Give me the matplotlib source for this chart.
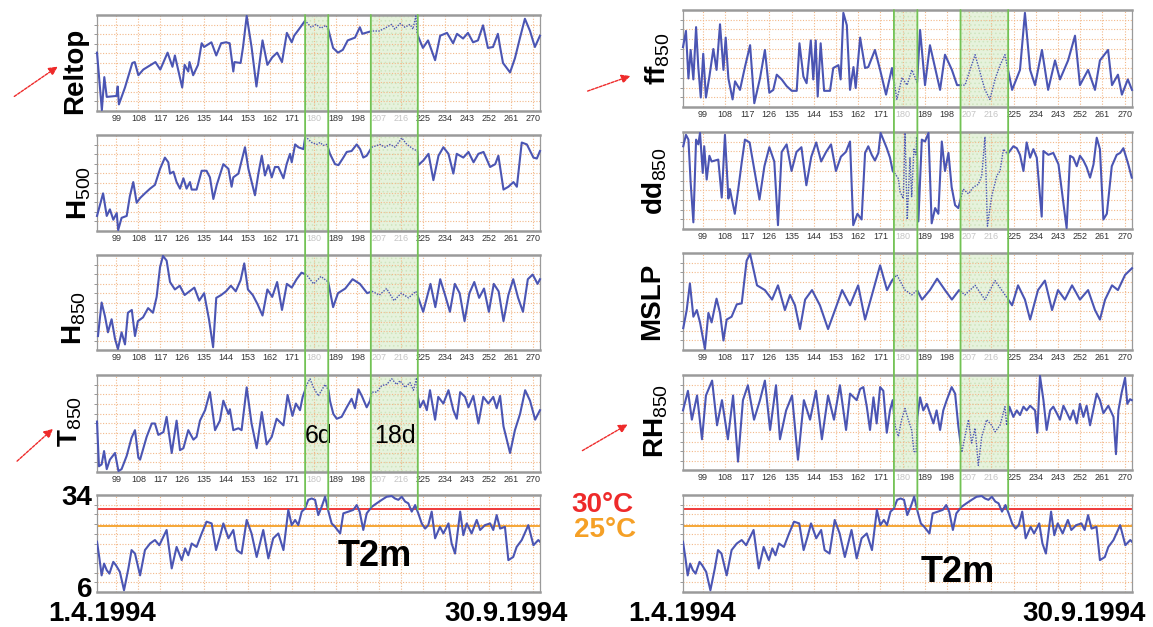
import numpy as np
import matplotlib
matplotlib.use("Agg")
import matplotlib.pyplot as plt
from matplotlib.patches import Rectangle, ConnectionPatch, FancyArrowPatch
from matplotlib.transforms import blended_transform_factory

plt.rcParams['font.family'] = ['Liberation Sans', 'DejaVu Sans']
plt.rcParams['mathtext.fontset'] = 'custom'
plt.rcParams['mathtext.rm'] = 'Liberation Sans'
plt.rcParams['mathtext.bf'] = 'Liberation Sans:bold'
plt.rcParams['mathtext.it'] = 'Liberation Sans:italic'
plt.rcParams['hatch.linewidth'] = 0.6

# ---- data (day of year, value in % of panel range; T2m in degC) ----
spans = [(176.5, 186.0), (203.5, 222.8)]   # hot periods, 6d and 18d
span_labels = ['6d', '18d']
tick_days = list(range(99, 271, 9))
t2m_lim = (6, 34)
thresholds = [30, 25]

reltop_day = [91, 93, 94, 95, 99, 99.5, 100, 102.5, 105.5, 106.5, 108, 110, 115, 117, 120, 122, 123, 126, 127, 128.5,
              129, 130.5, 132.5, 134, 135, 138, 140, 142, 144, 145.5, 147, 147.5, 150, 151, 152.5, 154.5, 156.5, 159,
              161, 163, 165, 167, 169, 171, 172, 174, 176.5, 179, 181, 183, 185, 186, 188, 190, 192, 194, 197, 199,
              200, 204, 207, 210, 212, 213.4, 215.5, 217.5, 219.6, 220.8, 222, 222.5, 224.9, 227, 229.9, 232, 234.8,
              237.3, 238.9, 241.4, 243.4, 245.5, 247.5, 249.6, 251.6, 253.7, 255.7, 256.6, 257.8, 260.7, 262.7, 264.8,
              266.8, 268.9, 270.9, 273]
reltop_val = [61, 0, 35, 14, 15, 25, 6, 24, 50, 51, 37, 43, 51, 43, 61, 46, 58, 24, 48, 41,
              51, 37, 48, 71, 67, 72, 58, 71, 72, 71, 41, 51, 50, 67, 100, 67, 25, 74,
              48, 56, 61, 51, 82, 72, 79, 86, 95, 88, 91, 87, 90, 86, 66, 61, 64, 74, 77, 88,
              81, 84, 84, 88, 91, 86, 92, 88, 91, 86, 100, 81, 66, 74, 53, 79, 82,
              71, 81, 76, 82, 72, 74, 90, 66, 67, 81, 67, 50, 40, 55, 77,
              97, 84, 67, 79]

h500_day = [91, 93.5, 95, 96.3, 97.7, 99.1, 99.7, 101.1, 103.2, 104.5, 105.9, 107.3, 108.7, 110.7, 112.8, 114.8, 116.9,
            118.9, 120.3, 121, 122.4, 123.7, 125.1, 126.5, 127.8, 129.2, 129.9, 131.9, 134, 136, 137.4, 138.8, 140.2,
            142.9, 145, 146.3, 147, 149.1, 151.8, 153.2, 155.9, 157.3, 158.7, 160, 161.4, 162.8, 164.1, 165.5, 167.6,
            168.9, 170.3, 171, 172.4, 173.7, 175.8, 176.5, 177.2, 179.2, 181.3, 182.6, 184, 185.4, 186.1, 186.7,
            188.8, 190.2, 192.2, 193.6, 195.6, 197.7, 199.1, 200.4, 201.8, 203.9, 207.3, 209.3, 211.4, 213.5, 216.2,
            218.3, 221, 222.6, 223, 225.1, 227.2, 229.2, 231.3, 233.3, 235.4, 237.4, 238.8, 241.5, 243.6, 245.7,
            247.7, 249.8, 252.5, 254.6, 255.9, 258, 260, 262.1, 263.5, 265.5, 267.6, 270.3, 271.7, 273]
h500_val = [15, 39, 15, 22, 11, 18, 0, 13, 15, 36, 51, 29, 34, 39, 44, 48, 65,
            77, 72, 60, 62, 51, 44, 55, 44, 51, 43, 43, 63, 63, 56, 33, 48,
            70, 65, 46, 56, 60, 88, 65, 37, 60, 79, 58, 69, 56, 67, 67, 55,
            70, 81, 72, 91, 88, 86, 98, 98, 93, 91, 93, 90, 91, 86, 81,
            70, 69, 77, 83, 84, 91, 86, 77, 79, 88, 91, 88, 91, 88, 98,
            91, 86, 84, 69, 74, 81, 53, 79, 88, 81, 60, 81, 77, 83, 72,
            81, 83, 67, 70, 79, 43, 46, 51, 46, 93, 91, 77, 76, 84]

h850_day = [91.4, 92.9, 94.3, 95.5, 97, 98.4, 99.6, 101.1, 102.5, 103.7, 105.3, 106.6, 107.8, 109.9, 112, 114, 115.5,
            116.9, 118.1, 119.6, 121, 123, 125, 127, 129, 131, 133, 135, 137, 138.7, 140, 142, 144, 146, 148, 150,
            151.5, 153, 155, 157, 159, 161, 163, 165, 167, 169, 171, 173, 175, 177, 180, 183, 186, 188, 190, 193,
            196, 199, 202, 204, 207, 210, 213, 216, 219, 222, 223, 225, 228, 230, 232, 234, 236, 238, 240, 242,
            244, 246, 248, 250, 252, 254, 256, 258, 260, 262, 264, 266, 268, 270, 272, 273]
h850_val = [14, 50, 35, 18, 32, 11, 0, 18, 5, 39, 42, 14, 30, 34, 44, 39, 56,
            88, 100, 95, 72, 64, 68, 58, 62, 66, 52, 60, 32, 2, 55, 58, 62, 68, 62, 74,
            92, 64, 58, 48, 36, 64, 56, 72, 42, 70, 66, 75, 82, 80, 70, 78, 72, 45, 60, 65,
            75, 70, 60, 62, 58, 65, 52, 60, 55, 62, 55, 40, 70, 45, 75, 58, 40, 70, 60, 30,
            60, 72, 55, 65, 40, 70, 62, 30, 58, 75, 55, 40, 75, 80, 70, 75]

t850_day = [91, 91.8, 92.9, 93.9, 95, 96.3, 98.4, 99.8, 101.1, 103.2, 105.2, 106.6, 108, 108.7, 111.4, 113.5, 114.8,
            116.2, 118.3, 119.6, 121.7, 123.7, 125.1, 126.5, 128.5, 130.6, 131.9, 133.3, 135.4, 137.4, 139.5, 141.5,
            142.9, 145, 145.6, 147, 149.1, 150.4, 152.5, 154.5, 156.6, 158.7, 160.7, 162.8, 164.8, 167.6, 169.3,
            171.3, 172.7, 174.4, 175.5, 176.5, 177.2, 178.5, 179.9, 181.9, 183.3, 184.7, 186.1, 186.7, 188.1, 189.5,
            191.5, 193.6, 195.6, 197, 198.4, 199.8, 201.8, 203.2, 203.9, 205.9, 208, 210, 212.1, 214.1, 215.5, 217.6,
            219.6, 221, 222.3, 222.8, 223.7, 225.1, 226.5, 227.8, 229.9, 231.2, 233.3, 235.4, 237.4, 238.8, 240.2,
            242.2, 243.6, 245.6, 247.7, 249.7, 251.8, 253.8, 255.2, 256.6, 258, 260.7, 262.7, 264.8, 266.9, 268.9,
            271, 273]
t850_val = [52, 5, 7, 21, 2, 12, 19, 0, 2, 16, 35, 43, 14, 12, 36, 50, 50,
            38, 41, 57, 19, 53, 22, 24, 43, 33, 36, 53, 64, 83, 43, 53,
            74, 60, 65, 43, 45, 43, 88, 50, 24, 62, 28, 36, 55, 48, 80,
            58, 71, 64, 78, 85, 91, 97, 88, 79, 85, 91, 85, 74, 60, 55,
            57, 67, 76, 66, 86, 79, 67, 74, 83, 83, 90, 91, 97, 91, 95, 88,
            93, 85, 98, 78, 67, 74, 64, 85, 54, 78, 71, 85, 64, 55, 83,
            78, 67, 79, 50, 78, 71, 78, 66, 79, 47, 19, 43, 60, 85, 74,
            54, 64]

t2m_day = [91, 92, 92.9, 93.9, 95, 96.1, 97.7, 98.8, 100.4, 102.1, 103.9, 105.2, 106.6, 108.7, 110.7, 112.8, 114.8,
           116.6, 119.6, 121.7, 123.7, 125.8, 127.2, 128.5, 129.9, 131.9, 134, 136, 138.1, 139.9, 141.5, 142.9, 145,
           147, 148.4, 150.4, 152.5, 154.5, 156.6, 159.3, 161.4, 163.4, 165.5, 167.6, 169.6, 171, 172.4, 173.7, 175.1,
           176.5, 177.8, 179.2, 180.6, 181.9, 183.3, 184.7, 186.1, 187.4, 188.8, 190.9, 192.2, 194.3, 196.3, 197.7,
           198.9, 200.4, 201.8, 203.9, 205.9, 208, 210, 212.1, 213.4, 214.8, 216.2, 217.6, 218.9, 220.3, 221.7, 223,
           224.4, 225.8, 227.1, 228.5, 229.9, 231.9, 233.3, 235.4, 236.7, 238.1, 240.2, 241.5, 242.9, 244.9, 247,
           248.4, 250.4, 252.5, 253.8, 255.2, 256.6, 258.6, 260, 262, 263.4, 265.5, 268.2, 270.3, 272.3, 273]
t2m_val = [20.5, 15.7, 10.8, 14.2, 12.3, 11.3, 14.7, 13.7, 11.8, 6.5, 12.8, 18.1, 17.1, 10.8, 18.1, 20, 21,
           19.5, 23.9, 12.8, 19, 15.2, 18.6, 16.6, 20, 19, 22.9, 26.3, 25.8, 18.1, 22, 25.8, 21.5,
           23.9, 18.1, 17.1, 26.8, 22.9, 16.1, 23.9, 15.7, 21.5, 22.9, 18.1, 29.7, 25.3, 26.8, 25.3, 29.2,
           30.1, 32.6, 33, 32.6, 28.2, 30.6, 33.5, 29.2, 25.8, 24.8, 22.9, 28.7, 29.2, 29.7, 31.1,
           29.2, 23.9, 28.7, 30.6, 31.6, 32.6, 33.5, 33.7, 33, 32.6, 33.5, 32.1, 31.6, 29.2, 31.1, 28.7,
           25.8, 24.3, 25.3, 29.2, 21.5, 24.8, 22.9, 25.8, 20, 17.1, 29.2, 22.4, 25.8, 22.9, 26.8,
           23.9, 25.3, 25.8, 23.9, 28.2, 24.3, 24.8, 15.2, 16.1, 19, 21, 25.3, 19.5, 21, 20.5]

ff_day = [91, 92.2, 93.2, 94.1, 95.2, 96.3, 97.2, 98.2, 99.2, 100.3, 101.7, 103.3, 104.6, 106, 107.4, 108.3, 109.4,
          111.1, 112.1, 114.1, 116.1, 118.2, 119.9, 122.2, 124.2, 126, 127.6, 129, 131, 133, 135.1, 137.1, 138.2,
          139.8, 141.1, 142.8, 143.8, 144.8, 145.6, 146.8, 148.2, 150.6, 151.9, 154, 154.9, 156, 157.4, 158.7, 160.1,
          161, 162.8, 164.8, 166.1, 168.8, 170.9, 173.3, 175.7, 177.7, 179.8, 181.8, 183.8, 185.9, 187.1, 189.1,
          191.1, 195.2, 197.2, 200, 202.1, 205.3, 209.4, 213.4, 215.4, 217.5, 219.5, 221.5, 224.4, 227.6, 229.6,
          231.7, 233.7, 236.5, 239, 241.8, 243.8, 247.1, 249.9, 251.9, 255.2, 258, 260, 263.3, 264.9, 267.3, 268.9,
          271.3, 273]
ff_val = [62, 79, 29, 59, 28, 83, 41, 9, 55, 9, 31, 60, 38, 86, 38, 72, 29,
          7, 26, 17, 41, 64, 3, 29, 59, 14, 17, 33, 28, 21, 16, 16, 66,
          31, 24, 69, 28, 69, 10, 66, 16, 16, 40, 43, 28, 98, 85, 17, 41,
          19, 72, 40, 41, 59, 38, 12, 40, 7, 30, 22, 38, 25, 80, 22,
          64, 17, 54, 38, 22, 22, 54, 17, 7, 28, 43, 54, 17, 38, 98,
          38, 22, 59, 17, 48, 28, 48, 74, 22, 38, 17, 48, 59, 22, 33, 12,
          28, 17]

dd_day = [91.1, 92.2, 93.2, 94.1, 95.2, 96.3, 97.2, 97.9, 99, 99.6, 100.6, 101.7, 102.6, 105.3, 106.7, 108, 109.4, 110,
          112, 113.4, 114.8, 116.1, 118, 120, 122, 124, 126, 128, 129.5, 131, 133, 135, 137, 139, 141, 143, 145, 147,
          149, 151, 153, 155, 157, 158.7, 160, 161.7, 163.4, 164.8, 166.1, 167.5, 168.8, 170.2, 171.1, 172.2, 173.6,
          174.9, 176, 177, 178.3, 179, 180.3, 181, 181.9, 183, 183.7, 184.6, 185.5, 185.7, 186.4, 187.8, 189.1, 190.5,
          191.8, 193.2, 194.5, 195.9, 197.2, 198.6, 199.9, 201.3, 202.6, 204.6, 206.7, 208.7, 210.7, 212.1, 213.4,
          214.4, 216.1, 218.2, 219.5, 220.9, 222.2, 222.9, 224.9, 226.3, 227.6, 229, 230.3, 231.7, 233, 234.4, 236.4,
          237.1, 239.1, 241.1, 243.2, 245.2, 246.5, 247.9, 249.2, 250.6, 251.9, 253.3, 254.6, 256, 257.4, 258.7, 260,
          261.4, 262.8, 264.8, 266.8, 268.2, 269.5, 271.5, 272.9]
dd_val = [86, 98, 93, 48, 6, 93, 88, 100, 58, 86, 51, 76, 70, 72, 32, 98, 31, 41,
          15, 41, 69, 93, 90, 60, 30, 65, 85, 70, 3, 80, 88, 60, 80, 85, 45, 75, 90, 70,
          80, 88, 60, 75, 80, 91, 3, 15, 9, 79, 86, 77, 71, 79, 100, 93, 84,
          74, 60, 57, 52, 38, 31, 100, 9, 74, 33, 83, 77, 96, 7, 93, 91, 100,
          5, 21, 15, 91, 60, 79, 43, 24, 21, 41, 36, 43, 46, 55, 96,
          2, 33, 55, 60, 83, 79, 79, 86, 84, 77, 60, 90, 74, 83, 74, 12,
          81, 77, 79, 67, 26, 0, 76, 74, 65, 76, 71, 64, 53, 67, 95, 83,
          9, 15, 65, 77, 79, 84, 67, 53]

mslp_day = [91.1, 92.5, 93.8, 95.2, 96.6, 97.9, 99.9, 101.3, 102.6, 104.6, 106, 107.4, 108.7, 110.7, 112.8, 114.8,
            116.8, 118.2, 121, 124.2, 127.1, 129.5, 132.3, 134.4, 136.4, 138.4, 140.5, 143.3, 146.5, 149.8, 152.6,
            155.5, 158.7, 162, 164.8, 167.6, 170.9, 173.7, 175.7, 177.7, 181, 183.8, 185.9, 187.9, 191.1, 194, 197.2,
            200, 202.9, 205.3, 209.4, 213.4, 217.5, 221.5, 224.4, 226.8, 229.6, 231.7, 234.9, 237.7, 240.6, 243,
            245.8, 248.7, 251.9, 255.2, 258, 260, 262.1, 264.9, 267.3, 270.2, 273]
mslp_val = [22, 41, 69, 34, 41, 28, 0, 38, 28, 53, 38, 9, 31, 34, 47, 48,
            93, 100, 67, 62, 52, 67, 41, 57, 46, 21, 52, 62, 46, 21, 41,
            62, 46, 67, 31, 57, 88, 62, 72, 78, 62, 57, 62, 52, 62, 74, 62,
            52, 62, 57, 67, 52, 72, 57, 46, 67, 52, 31, 62, 72, 41, 62,
            52, 67, 52, 62, 41, 31, 52, 67, 62, 78, 85]

rh_day = [91, 93, 94.6, 96.7, 98.7, 100.3, 102.8, 104.8, 106.8, 109.2, 111.3, 113.3, 115.3, 117.3, 119.8, 122.2, 124.2,
          126.3, 128.7, 130.3, 132.8, 135.2, 137.6, 140, 142.5, 144.9, 147.3, 149.8, 152.2, 154.6, 157.1, 158.7, 161.4,
          162.8, 164.1, 165.5, 166.8, 168.2, 169.5, 170.9, 172.2, 173.6, 174.9, 176, 177, 178.3, 179.6, 181, 182.3,
          183.7, 184.6, 185.5, 186, 187.1, 188.4, 189.8, 191.1, 192.5, 193.8, 195.2, 196.5, 197.9, 199.9, 201.3,
          202.6, 204, 205.3, 206.7, 208, 209.4, 210.7, 212.1, 214.1, 216.1, 217.5, 219.5, 221.5, 222.2, 223.3, 224.9,
          226.3, 227.6, 229, 230.3, 231.7, 233.7, 234.6, 235.7, 237.1, 238.4, 239.8, 241.1, 242.5, 243.8, 245.2,
          246.5, 247.9, 249.2, 250.6, 251.9, 253.3, 254.6, 256, 258.7, 260, 261.4, 263.4, 265.5, 266.5, 267.5, 268.8,
          270.2, 271.1, 272.2, 272.9]
rh_val = [63, 84, 53, 79, 32, 79, 95, 47, 74, 32, 79, 8, 74, 90, 53, 74, 95,
          42, 90, 32, 63, 79, 10, 74, 53, 84, 32, 79, 53, 90, 42, 81, 74,
          86, 88, 67, 42, 77, 49, 88, 84, 39, 63, 74, 46, 35, 53, 65, 53,
          42, 19, 18, 56, 77, 63, 70, 60, 49, 63, 42, 63, 74, 88, 81,
          46, 18, 35, 53, 28, 44, 4, 35, 53, 47, 40, 47, 67, 47, 67, 56,
          63, 58, 67, 63, 68, 63, 39, 100, 74, 42, 63, 67, 60, 53, 68,
          61, 53, 63, 49, 70, 56, 68, 47, 81, 74, 60, 68, 56, 16, 63, 82,
          98, 70, 75, 74]

# ---- style ----
W, H = 1153, 627
BLUE = '#4b55b3'
GRID = '#f3b98a'
GREEN = '#72c254'
SHADE = '#e6f2dc'
RED = '#ee2a2a'
ORANGE = '#f5a026'

fig = plt.figure(figsize=(W / 100, H / 100), dpi=100)
fig.patch.set_facecolor('white')


def panel(left, right, top, bottom):
    return fig.add_axes([left / W, 1 - bottom / H, (right - left) / W, (bottom - top) / H])


def style(ax, ylim, labels=True):
    ax.set_xlim(91, 273)
    ax.set_ylim(*ylim)
    ax.set_xticks(tick_days)
    ax.set_yticks(np.linspace(ylim[0], ylim[1], 11)[1:-1])
    ax.grid(True, color=GRID, lw=0.8, ls=(0, (1, 1.5)))
    ax.tick_params(axis='y', length=2, color='#888888', labelleft=False, width=0.6)
    ax.tick_params(axis='x', length=0, pad=2.5, labelsize=6.5, labelcolor='#333333', labelbottom=labels)
    for side in ['left', 'right']:
        ax.spines[side].set_color('#9a9a9a')
        ax.spines[side].set_linewidth(0.9)
    for side in ['top', 'bottom']:
        ax.spines[side].set_color('#9a9a9a')
        ax.spines[side].set_linewidth(1.8)
    if labels:
        for lab, d in zip(ax.get_xticklabels(), tick_days):
            if any(a <= d <= b for a, b in spans):
                lab.set_color('#c4c4c4')


def draw(ax, days, vals):
    trans = blended_transform_factory(ax.transData, ax.transAxes)
    edges = [80] + [v for sp in spans for v in sp] + [290]
    for a, b in zip(edges[::2], edges[1::2]):
        ln, = ax.plot(days, vals, color=BLUE, lw=1.5, zorder=3)
        ln.set_clip_path(Rectangle((a, -0.1), b - a, 1.2, transform=trans))
    for a, b in spans:
        ln, = ax.plot(days, vals, color=BLUE, lw=1.0, ls=(0, (1, 1)), zorder=3)
        ln.set_clip_path(Rectangle((a, -0.1), b - a, 1.2, transform=trans))
    for a, b in spans:
        ax.axvspan(a, b, facecolor=SHADE, edgecolor='#cfe5bf', hatch='....', lw=0, zorder=0.5)


norm_lim = (-1, 101)
columns = [
    dict(x=(97, 540), rows=[(15, 111), (135, 231), (255, 350), (375, 472)], t2m=(495, 592),
         series=[(reltop_day, reltop_val), (h500_day, h500_val), (h850_day, h850_val), (t850_day, t850_val)]),
    dict(x=(683, 1132), rows=[(10, 107), (132, 229), (253, 350), (375, 470)], t2m=(495, 592),
         series=[(ff_day, ff_val), (dd_day, dd_val), (mslp_day, mslp_val), (rh_day, rh_val)]),
]

line_ends = [30.6, 29.8, 30.6, 29.8]
for col in columns:
    axes = []
    for (top, bottom), (d, v) in zip(col['rows'], col['series']):
        ax = panel(col['x'][0], col['x'][1], top, bottom)
        style(ax, norm_lim)
        draw(ax, d, v)
        axes.append(ax)
    axt = panel(col['x'][0], col['x'][1], *col['t2m'])
    style(axt, t2m_lim, labels=False)
    axt.plot(t2m_day, t2m_val, color=BLUE, lw=1.5, zorder=3)
    axt.axhline(thresholds[0], color=RED, lw=1.3, zorder=2.5)
    axt.axhline(thresholds[1], color=ORANGE, lw=1.3, zorder=2.5)
    # green period boundaries running through all panels
    bounds = [v for sp in spans for v in sp]
    for x, yend in zip(bounds, line_ends):
        con = ConnectionPatch(xyA=(x, 1.0), coordsA=axes[0].get_xaxis_transform(),
                              xyB=(x, yend), coordsB=axt.transData,
                              color=GREEN, lw=1.3, zorder=5)
        fig.add_artist(con)


# ---- texts ----
def ftext(px, py, s, **kw):
    fig.text(px / W, 1 - py / H, s, **kw)


lab_kw = dict(rotation=90, ha='center', va='center', fontsize=20, fontweight='bold')
ftext(75, 71, 'Reltop', **lab_kw)
ftext(79, 193, r'$\mathbf{H}_{\mathrm{500}}$', **lab_kw)
ftext(74, 318, r'$\mathbf{H}_{\mathrm{850}}$', **lab_kw)
ftext(70, 422, r'$\mathbf{T}_{\mathrm{850}}$', **lab_kw)
ftext(658, 59, r'$\mathbf{ff}_{\mathrm{850}}$', **lab_kw)
ftext(655, 181, r'$\mathbf{dd}_{\mathrm{850}}$', **lab_kw)
ftext(652, 301, 'MSLP', **lab_kw)
ftext(656, 421, r'$\mathbf{RH}_{\mathrm{850}}$', **lab_kw)

ftext(319, 436, span_labels[0], ha='center', va='center', fontsize=18)
ftext(395, 436, span_labels[1], ha='center', va='center', fontsize=18)

ftext(375, 557, 'T2m', ha='center', va='center', fontsize=26, fontweight='bold')
ftext(958, 572, 'T2m', ha='center', va='center', fontsize=26, fontweight='bold')

ftext(92, 498, str(t2m_lim[1]), ha='right', va='center', fontsize=20, fontweight='bold')
ftext(92, 590, str(t2m_lim[0]), ha='right', va='center', fontsize=20, fontweight='bold')

ftext(602, 505, '%d°C' % thresholds[0], ha='center', va='center', fontsize=20, fontweight='bold', color=RED)
ftext(605, 530, '%d°C' % thresholds[1], ha='center', va='center', fontsize=20, fontweight='bold', color=ORANGE)

ftext(102, 614, '1.4.1994', ha='center', va='center', fontsize=20, fontweight='bold')
ftext(506, 614, '30.9.1994', ha='center', va='center', fontsize=20, fontweight='bold')
ftext(682, 614, '1.4.1994', ha='center', va='center', fontsize=20, fontweight='bold')
ftext(1084, 614, '30.9.1994', ha='center', va='center', fontsize=20, fontweight='bold')

# red arrows pointing at the key predictors
for (x0, y0), (x1, y1) in [((12, 98), (60, 65)), ((15, 463), (55, 427)),
                           ((585, 92), (633, 75)), ((580, 452), (630, 423))]:
    arr = FancyArrowPatch((x0 / W, 1 - y0 / H), (x1 / W, 1 - y1 / H), transform=fig.transFigure,
                          arrowstyle='-|>', mutation_scale=13, color=RED, lw=1.0, ls=(0, (2, 1)))
    fig.add_artist(arr)

fig.savefig('out.png', dpi=100)
